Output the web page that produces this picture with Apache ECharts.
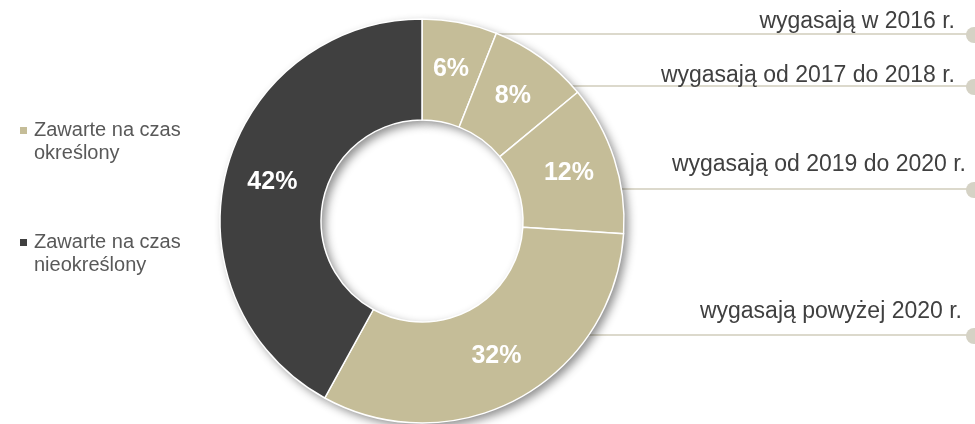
<!DOCTYPE html>
<html>
<head>
<meta charset="utf-8">
<script src="https://cdn.jsdelivr.net/npm/echarts@6/dist/echarts.min.js"></script>
<style>
  html, body { margin: 0; padding: 0; background: #ffffff; }
  #chart { width: 975px; height: 424px; }
</style>
</head>
<body>
<div id="chart"></div>
<script>
// Contract structure: fixed-term contracts split by expiry year, plus open-ended contracts.
const segmentNames = [
  'wygasają w 2016 r.',
  'wygasają od 2017 do 2018 r.',
  'wygasają od 2019 do 2020 r.',
  'wygasają powyżej 2020 r.',
  'Zawarte na czas nieokreślony'
];
const segmentValues = [6, 8, 12, 32, 42];
const fixedTermSegments = 4; // the first four segments are fixed-term contracts

const groupNames = ['Zawarte na czas\nokreślony', 'Zawarte na czas\nnieokreślony'];

const TAN = '#c5bd98';
const DARK = '#404040';
const FONT = '"Liberation Sans", Arial, Helvetica, sans-serif';

const CENTER = [422, 221];
const RADIUS = [101, 202];

const segmentData = segmentNames.map((name, i) => ({
  name: name,
  value: segmentValues[i],
  itemStyle: { color: i < fixedTermSegments ? TAN : DARK }
}));

const fixedTotal = segmentValues.slice(0, fixedTermSegments).reduce((a, b) => a + b, 0);
const openTotal = segmentValues.slice(fixedTermSegments).reduce((a, b) => a + b, 0);
const groupData = [
  { name: groupNames[0].replace('\n', ' '), value: fixedTotal, itemStyle: { color: TAN } },
  { name: groupNames[1].replace('\n', ' '), value: openTotal, itemStyle: { color: DARK } }
];

// Callout placement for the fixed-term segments (text anchor on the right, leader line below)
const callouts = [
  { textRight: 955, textY: 22, lineY: 34 },
  { textRight: 955, textY: 76, lineY: 86 },
  { textRight: 966, textY: 165, lineY: 189 },
  { textRight: 962, textY: 312, lineY: 335 }
];

// leader lines start where they meet the outer rim of the ring
function rimX(y) {
  const dy = y - CENTER[1];
  return CENTER[0] + Math.sqrt(Math.max(0, RADIUS[1] * RADIUS[1] - dy * dy)) - 3;
}

const graphics = [];
callouts.forEach((c, i) => {
  graphics.push({
    type: 'line', z: -10, silent: true,
    shape: { x1: rimX(c.lineY), y1: c.lineY, x2: 975, y2: c.lineY },
    style: { stroke: '#dcd9cc', lineWidth: 2 }
  });
  graphics.push({
    type: 'circle', z: -10, silent: true,
    shape: { cx: 974, cy: c.lineY + 1, r: 8 },
    style: { fill: '#d5d2c5' }
  });
  graphics.push({
    type: 'text', silent: true,
    x: c.textRight, y: c.textY,
    style: {
      text: segmentNames[i], fill: '#404040',
      font: '23px ' + FONT, align: 'right', verticalAlign: 'middle'
    }
  });
});

// Legend: swatch aligned with the first line of each two-line entry
const legendRows = [128, 240];
groupNames.forEach((name, i) => {
  graphics.push({
    type: 'rect', silent: true,
    shape: { x: 20, y: legendRows[i] - 1, width: 7, height: 7 },
    style: { fill: i === 0 ? TAN : DARK }
  });
  graphics.push({
    type: 'text', silent: true,
    x: 34, y: legendRows[i] - 9,
    style: {
      text: name, fill: '#595959',
      font: '20px ' + FONT, lineHeight: 23, align: 'left', verticalAlign: 'top'
    }
  });
});

const chart = echarts.init(document.getElementById('chart'), null, { renderer: 'canvas' });
chart.setOption({
  animation: false,
  backgroundColor: '#ffffff',
  graphic: graphics,
  series: [
    {
      // soft drop shadow beneath the ring
      type: 'pie', silent: true, z: 1,
      center: CENTER, radius: RADIUS, startAngle: 90,
      label: { show: false }, labelLine: { show: false },
      itemStyle: {
        shadowBlur: 10, shadowOffsetX: 4, shadowOffsetY: 4,
        shadowColor: 'rgba(0,0,0,0.45)'
      },
      data: groupData
    },
    {
      type: 'pie', silent: true, z: 2,
      center: CENTER, radius: RADIUS, startAngle: 90,
      itemStyle: { borderColor: '#ffffff', borderWidth: 1.5 },
      label: {
        show: true, position: 'inside',
        formatter: p => p.value + '%',
        color: '#ffffff', fontFamily: FONT, fontWeight: 'bold', fontSize: 25
      },
      labelLine: { show: false },
      data: segmentData
    }
  ]
});
</script>
</body>
</html>
